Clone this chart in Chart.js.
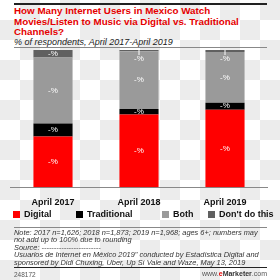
<!DOCTYPE html>
<html>
<head>
<meta charset="utf-8">
<script src="https://cdn.jsdelivr.net/npm/chart.js@4.4.0/dist/chart.umd.min.js"></script>
<style>
  html, body {
    margin: 0;
    padding: 0;
    width: 280px;
    height: 280px;
    overflow: hidden;
    background: #fff repeating-conic-gradient(#ececec 0 25%, #fff 0 50%) 0 0 / 40px 40px;
    font-family: "Liberation Sans", Arial, sans-serif;
  }
  #page { position: relative; width: 280px; height: 280px; }
  .rule { position: absolute; left: 14px; width: 253px; }
  #title {
    position: absolute; left: 14px; top: 6px; width: 260px;
    color: #e50000; font-weight: bold; font-size: 9.8px; line-height: 10.5px;
  }
  #subtitle {
    position: absolute; left: 14px; top: 37px;
    font-style: italic; font-size: 9px; color: #222;
  }
  #chart-wrap { position: absolute; left: 10px; top: 46px; width: 258px; height: 164px; }
  #legend { position: absolute; top: 209px; left: 0; width: 280px; height: 12px; }
  .leg { position: absolute; font-weight: bold; font-size: 9px; color: #111; white-space: nowrap; }
  .leg span.sw { display: inline-block; width: 7px; height: 7px; margin-right: 4px; vertical-align: -0.5px; }
  #note {
    position: absolute; left: 14px; top: 229px; width: 262px;
    font-style: italic; font-size: 7.4px; line-height: 7.4px; color: #333;
  }
  #footer-id { position: absolute; left: 14px; top: 271px; font-size: 6.5px; color: #555; }
  #footer-site { position: absolute; right: 13px; top: 270px; font-size: 7px; color: #555; }
  #footer-site b { color: #333; }
  #footer-site .e { color: #e50000; font-weight: bold; }
</style>
</head>
<body>
<div id="page">
  <div class="rule" style="top:3px;height:2px;background:#222;"></div>
  <div id="title">How Many Internet Users in Mexico Watch<br>Movies/Listen to Music via Digital vs. Traditional<br>Channels?</div>
  <div id="subtitle">% of respondents, April 2017-April 2019</div>
  <div class="rule" style="top:47px;height:1px;background:#888;"></div>
  <div id="chart-wrap"><canvas id="chart"></canvas></div>
  <div id="legend"></div>
  <div class="rule" style="top:227px;height:1px;background:#888;"></div>
  <div id="note">Note: 2017 n=1,626; 2018 n=1,873; 2019 n=1,968; ages 6+; numbers may<br>not add up to 100% due to rounding<br>Source: ------------------------<br>Usuarios de Internet en México 2019" conducted by Estadística Digital and<br>sponsored by Didi Chuxing, Uber, Up Sí Vale and Waze, May 13, 2019</div>
  <div class="rule" style="top:267px;height:1px;background:#222;"></div>
  <div id="footer-id">248172</div>
  <div id="footer-site">www.<span class="e">e</span><b>Marketer</b>.com</div>
</div>
<script>
// Chart data
const years = ["April 2017", "April 2018", "April 2019"];
const seriesNames = ["Digital", "Traditional", "Both", "Don't do this"];
const digital = [37, 53, 56.5];
const traditional = [9.5, 4, 5];
const both = [48, 42, 37];
const dontDo = [5.5, 1, 1.5];
const seriesColors = ["#ff0000", "#000000", "#9a9a9a", "#606060"];
const legendLeft = [13, 76, 162, 208];

// Legend built in HTML so items sit where the original has them
const legend = document.getElementById("legend");
seriesNames.forEach((name, i) => {
  const item = document.createElement("div");
  item.className = "leg";
  item.style.left = legendLeft[i] + "px";
  item.innerHTML = `<span class="sw" style="background:${seriesColors[i]}"></span>${name}`;
  legend.appendChild(item);
});

// Draw the "-%" placeholders on each segment
const segmentLabels = {
  id: "segmentLabels",
  afterDatasetsDraw(chart) {
    const ctx = chart.ctx;
    ctx.save();
    ctx.font = "8px 'Liberation Sans', Arial, sans-serif";
    ctx.fillStyle = "#fff";
    ctx.strokeStyle = "#fff";
    ctx.textAlign = "center";
    ctx.textBaseline = "middle";
    chart.data.datasets.forEach((ds, di) => {
      const meta = chart.getDatasetMeta(di);
      meta.data.forEach((bar) => {
        const top = Math.min(bar.y, bar.base);
        const h = Math.abs(bar.base - bar.y);
        if (h < 4) {
          // tiny segment: short leader line, label just below it
          ctx.lineWidth = 1;
          ctx.beginPath();
          ctx.moveTo(bar.x, top);
          ctx.lineTo(bar.x, top + 5);
          ctx.stroke();
          ctx.fillText("-%", bar.x, top + 9);
        } else {
          ctx.fillText("-%", bar.x, top + h / 2);
        }
      });
    });
    ctx.restore();
  },
};

const ctx = document.getElementById("chart").getContext("2d");
new Chart(ctx, {
  type: "bar",
  data: {
    labels: years,
    datasets: [
      { label: seriesNames[0], data: digital, backgroundColor: seriesColors[0] },
      { label: seriesNames[1], data: traditional, backgroundColor: seriesColors[1] },
      { label: seriesNames[2], data: both, backgroundColor: seriesColors[2] },
      { label: seriesNames[3], data: dontDo, backgroundColor: seriesColors[3] },
    ],
  },
  options: {
    responsive: true,
    maintainAspectRatio: false,
    animation: false,
    layout: { padding: { top: 4, left: 0, right: 0, bottom: 0 } },
    datasets: { bar: { barPercentage: 0.455, categoryPercentage: 1 } },
    plugins: {
      legend: { display: false },
      tooltip: { enabled: false },
    },
    scales: {
      x: {
        stacked: true,
        grid: { display: false },
        border: { display: true, color: "#888", width: 1 },
        ticks: {
          color: "#111",
          padding: 2,
          font: { family: "'Liberation Sans', Arial, sans-serif", size: 9, weight: "bold" },
        },
      },
      y: {
        stacked: true,
        display: false,
        min: 0,
        max: 100,
      },
    },
  },
  plugins: [segmentLabels],
});
</script>
</body>
</html>
